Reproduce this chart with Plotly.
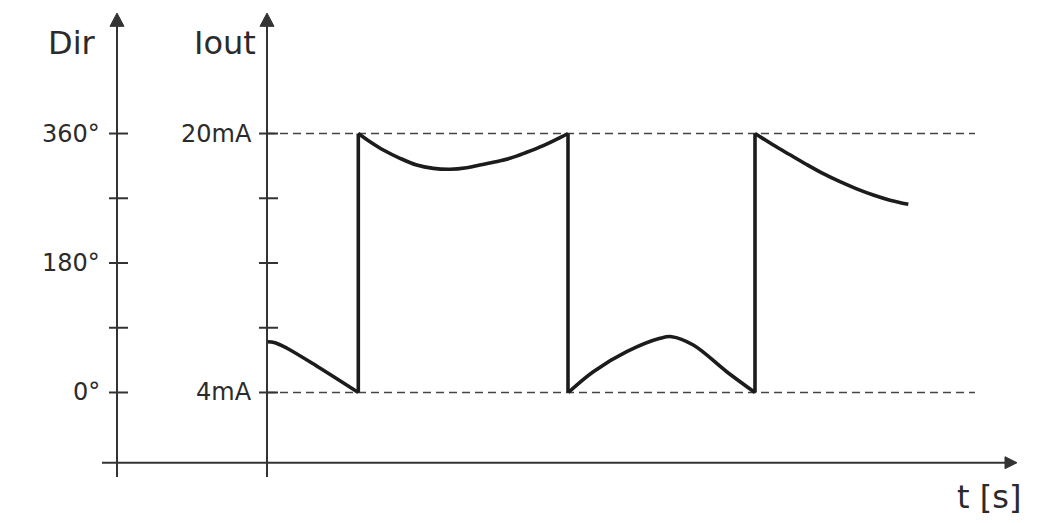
import plotly.graph_objects as go

# ---- data (time in arbitrary seconds, direction in degrees) ----
seg1_t = [0, 0.8, 2.0, 5.0, 9.13]
seg1_dir = [70.6, 69.2, 61.5, 36.5, 0]
seg2_t = [9.13, 10.3, 11.63, 13.3, 14.97, 16.63, 18.3, 19.97, 20.97, 22.63, 24.3, 25.97, 27.63, 29.3, 30.1]
seg2_dir = [360, 348.6, 337.1, 325.6, 316.2, 311.6, 310.3, 312.5, 315.3, 320.0, 325.6, 333.9, 343.1, 354.2, 360]
seg3_t = [30.13, 32.63, 35.97, 39.3, 40.47, 42.63, 45.97, 48.8]
seg3_dir = [0, 28.9, 56.7, 75.3, 77.6, 66.0, 28.9, 0]
seg4_t = [48.8, 50.63, 52.3, 53.97, 55.63, 57.3, 58.97, 60.63, 62.3, 64.13]
seg4_dir = [360, 344.0, 330.4, 316.9, 304.2, 293.0, 283.1, 274.5, 267.3, 261.6]
jump_t = [9.13, 30.1, 48.8]

dir_ticks = [0, 90, 180, 270, 360]
dir_labels = {360: "360°", 180: "180°", 0: "0°"}
iout_labels = {360: "20mA", 0: "4mA"}

# ---- geometry (data units) ----
X_RANGE = [-25.9, 78.1]
Y_RANGE = [-170.3, 534.5]
DIR_AX = -15.0
IOUT_AX = 0.0
H_AX = -97.6
AX_BOTTOM = -117.5
AX_TOP = 511.0
ARROW_TIP_Y = 527.5
H_LEFT = -16.5
H_END = 73.8
H_TIP = 75.0
DASH_END = 70.8

AX_COL = "#333333"
CURVE_COL = "#1c1c1c"
TXT_COL = "#2b2b2b"
FONT = "DejaVu Sans"

fig = go.Figure()

for ts, ds in [(seg1_t, seg1_dir), (seg2_t, seg2_dir), (seg3_t, seg3_dir), (seg4_t, seg4_dir)]:
    fig.add_trace(go.Scatter(x=ts, y=ds, mode="lines",
                             line=dict(color=CURVE_COL, width=3.6, shape="spline", smoothing=1.0),
                             hoverinfo="skip", showlegend=False))
for jt in jump_t:
    fig.add_trace(go.Scatter(x=[jt, jt], y=[0, 360], mode="lines",
                             line=dict(color=CURVE_COL, width=3.6),
                             hoverinfo="skip", showlegend=False))

shapes = []
# dashed reference lines
for d in (0, 360):
    shapes.append(dict(type="line", xref="x", yref="y", x0=IOUT_AX, x1=DASH_END, y0=d, y1=d,
                       line=dict(color="#444444", width=1.5, dash="8px,5px"), layer="below"))
# vertical axes
for ax in (DIR_AX, IOUT_AX):
    shapes.append(dict(type="line", xref="x", yref="y", x0=ax, x1=ax, y0=AX_BOTTOM, y1=AX_TOP,
                       line=dict(color=AX_COL, width=2)))
    shapes.append(dict(type="path", xref="x", yref="y",
                       path=f"M {ax-0.7},{AX_TOP-2} L {ax+0.7},{AX_TOP-2} L {ax},{ARROW_TIP_Y} Z",
                       fillcolor=AX_COL, line=dict(color=AX_COL, width=1)))
    for d in dir_ticks:
        shapes.append(dict(type="line", xref="x", yref="y", x0=ax - 0.8, x1=ax + 1.1, y0=d, y1=d,
                           line=dict(color=AX_COL, width=2)))
# horizontal axis
shapes.append(dict(type="line", xref="x", yref="y", x0=H_LEFT, x1=H_END + 0.2, y0=H_AX, y1=H_AX,
                   line=dict(color=AX_COL, width=2)))
shapes.append(dict(type="path", xref="x", yref="y",
                   path=f"M {H_END},{H_AX-8.3} L {H_END},{H_AX+8.3} L {H_TIP},{H_AX} Z",
                   fillcolor=AX_COL, line=dict(color=AX_COL, width=1)))

ann = []
for d, lab in dir_labels.items():
    ann.append(dict(x=DIR_AX - 1.5, y=d, xref="x", yref="y", text=lab, showarrow=False,
                    xanchor="right", yanchor="middle", font=dict(family=FONT, size=24, color=TXT_COL)))
for d, lab in iout_labels.items():
    ann.append(dict(x=IOUT_AX - 1.3, y=d, xref="x", yref="y", text=lab, showarrow=False,
                    xanchor="right", yanchor="middle", font=dict(family=FONT, size=24, color=TXT_COL)))
ann.append(dict(x=DIR_AX - 1.9, y=486, xref="x", yref="y", text="Dir", showarrow=False,
                xanchor="right", yanchor="middle", font=dict(family=FONT, size=32, color=TXT_COL)))
ann.append(dict(x=IOUT_AX - 0.9, y=486, xref="x", yref="y", text="Iout", showarrow=False,
                xanchor="right", yanchor="middle", font=dict(family=FONT, size=32, color=TXT_COL)))
ann.append(dict(x=72.2, y=-145, xref="x", yref="y", text="t [s]", showarrow=False,
                xanchor="center", yanchor="middle", font=dict(family=FONT, size=32, color=TXT_COL)))

fig.update_layout(
    width=1040, height=507,
    margin=dict(l=0, r=0, t=0, b=0),
    paper_bgcolor="white", plot_bgcolor="white",
    xaxis=dict(range=X_RANGE, visible=False, fixedrange=True),
    yaxis=dict(range=Y_RANGE, visible=False, fixedrange=True),
    shapes=shapes, annotations=ann, showlegend=False,
)

fig.write_html("out.html")
